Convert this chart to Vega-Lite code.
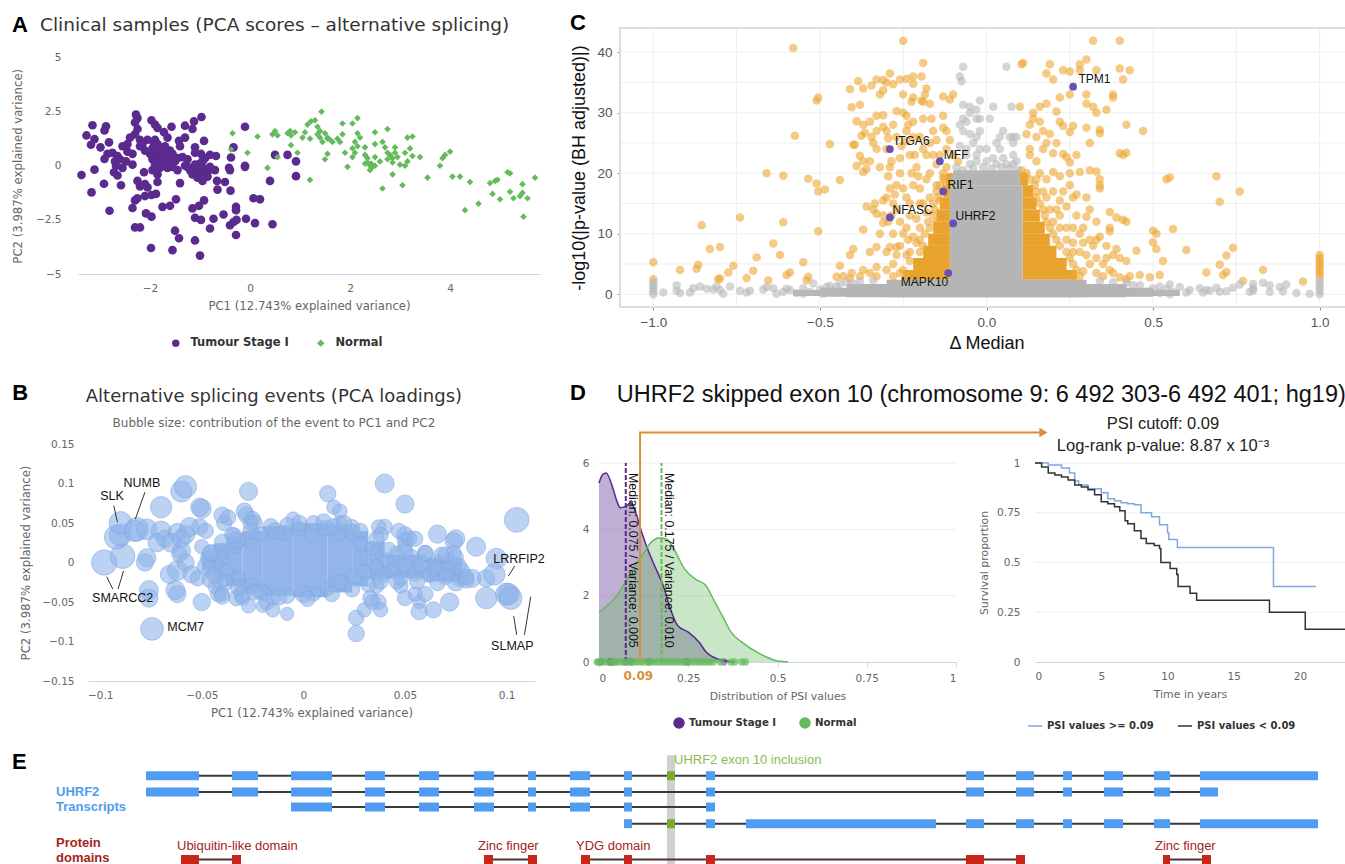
{"$schema":"https://vega.github.io/schema/vega-lite/v6.json","background":"white","autosize":"none","padding":0,"width":1345,"height":864,
"config":{"view":{"stroke":null},"axis":{"domainColor":"#ccd6eb","tickColor":"#ccd6eb","labelColor":"#666","titleColor":"#666","labelFont":"DejaVu Sans","titleFont":"DejaVu Sans","labelFontSize":10.5,"titleFontSize":11.7,"titleFontWeight":"normal","labelPadding":9,"titlePadding":7,"grid":false},"legend":{"labelFont":"DejaVu Sans","labelFontSize":11.5,"labelFontWeight":"bold","labelColor":"#333"}},
"resolve":{"scale":{"x":"independent","y":"independent","color":"independent","shape":"independent","size":"independent"},"axis":{"x":"independent","y":"independent"},"legend":{"color":"independent","shape":"independent","size":"independent"}},
"datasets":{
"aT":[{"x":-3.37,"y":-0.43},{"x":-3.11,"y":-0.18},{"x":-3.17,"y":-1.23},{"x":-3.27,"y":1.4},{"x":-3.15,"y":1.87},{"x":-3.11,"y":1.23},{"x":-3.18,"y":0.97},{"x":-2.99,"y":0.85},{"x":-2.88,"y":1.82},{"x":-2.91,"y":1.63},{"x":-2.82,"y":1.08},{"x":-2.91,"y":0.31},{"x":-2.85,"y":0.55},{"x":-2.75,"y":0.6},{"x":-2.7,"y":0.2},{"x":-2.68,"y":0},{"x":-2.72,"y":-0.3},{"x":-2.65,"y":-0.45},{"x":-2.92,"y":-0.83},{"x":-2.58,"y":-0.9},{"x":-2.81,"y":-2.08},{"x":-2.55,"y":0.9},{"x":-2.45,"y":1},{"x":-2.4,"y":1.3},{"x":-2.3,"y":1.45},{"x":-2.35,"y":0.55},{"x":-2.48,"y":0.2},{"x":-2.35,"y":0.05},{"x":-2.2,"y":0.9},{"x":-2.25,"y":1.7},{"x":-2.3,"y":2},{"x":-2.25,"y":2.2},{"x":-2.28,"y":2.36},{"x":-2.1,"y":0.7},{"x":-2.05,"y":1.2},{"x":-1.97,"y":2.1},{"x":-1.9,"y":1.9},{"x":-1.85,"y":1.75},{"x":-1.9,"y":1.2},{"x":-1.85,"y":1},{"x":-1.95,"y":0.8},{"x":-1.9,"y":0.6},{"x":-1.85,"y":0.4},{"x":-1.95,"y":0.3},{"x":-1.8,"y":0.1},{"x":-1.95,"y":-0.2},{"x":-1.85,"y":-0.4},{"x":-1.85,"y":-0.75},{"x":-1.75,"y":0.6},{"x":-1.7,"y":0.9},{"x":-1.65,"y":1.3},{"x":-1.72,"y":1.55},{"x":-1.57,"y":1.8},{"x":-1.65,"y":0.3},{"x":-1.6,"y":0.1},{"x":-1.55,"y":0.55},{"x":-1.5,"y":0.2},{"x":-1.45,"y":-0.2},{"x":-1.35,"y":0.4},{"x":-1.4,"y":0.9},{"x":-1.42,"y":1.15},{"x":-1.3,"y":1.3},{"x":-1.3,"y":1.85},{"x":-1.15,"y":1.7},{"x":-1.12,"y":2.05},{"x":-0.97,"y":2.25},{"x":-1.4,"y":-0.8},{"x":-1.25,"y":-0.05},{"x":-1.15,"y":-0.4},{"x":-1.1,"y":0.05},{"x":-1.05,"y":-0.2},{"x":-1,"y":0.1},{"x":-0.95,"y":-0.1},{"x":-1.05,"y":-0.55},{"x":-0.95,"y":-0.7},{"x":-0.85,"y":-0.3},{"x":-0.8,"y":-0.05},{"x":-0.9,"y":0.35},{"x":-1.1,"y":0.6},{"x":-1.1,"y":0.85},{"x":-0.92,"y":1.15},{"x":-0.98,"y":0.55},{"x":-0.8,"y":0.5},{"x":-0.7,"y":-0.2},{"x":-0.68,"y":0.45},{"x":-0.66,"y":-0.7},{"x":-0.5,"y":-0.75},{"x":-0.65,"y":-1.1},{"x":-0.39,"y":-1.15},{"x":-0.42,"y":-0.1},{"x":-0.38,"y":0.38},{"x":-0.33,"y":0.85},{"x":-0.1,"y":-0.05},{"x":-0.1,"y":1.8},{"x":-0.4,"y":-0.2},{"x":-2.1,"y":-0.85},{"x":-2.05,"y":-1},{"x":-2.25,"y":-0.7},{"x":-2.2,"y":-0.95},{"x":-2.12,"y":-0.3},{"x":-2.3,"y":-1.6},{"x":-2.25,"y":-1.5},{"x":-2.35,"y":-1.95},{"x":-2.1,"y":-1.4},{"x":-1.97,"y":-1.35},{"x":-1.88,"y":-1.3},{"x":-2.08,"y":-2.2},{"x":-1.97,"y":-2.35},{"x":-1.75,"y":-1.9},{"x":-1.6,"y":-1.85},{"x":-1.48,"y":-1.55},{"x":-1.15,"y":-1.97},{"x":-1.02,"y":-1.85},{"x":-0.92,"y":-1.6},{"x":-1.1,"y":-2.4},{"x":-0.98,"y":-2.5},{"x":-0.73,"y":-2.45},{"x":-0.53,"y":-2.25},{"x":-0.28,"y":-1.9},{"x":-0.28,"y":-2.05},{"x":-0.33,"y":-2.6},{"x":-0.4,"y":-2.75},{"x":-0.27,"y":-2.5},{"x":-0.08,"y":-2.45},{"x":0.1,"y":-2.65},{"x":0.45,"y":-2.7},{"x":-0.8,"y":-2.9},{"x":-0.28,"y":-3.2},{"x":-2.3,"y":-2.85},{"x":-2.2,"y":-2.85},{"x":-1.5,"y":-3},{"x":-1.42,"y":-3.35},{"x":-1.1,"y":-3.45},{"x":-1,"y":-4.15},{"x":-1.55,"y":-3.9},{"x":-1.98,"y":-3.8},{"x":0.07,"y":-1.5},{"x":0.2,"y":-1.55},{"x":0.4,"y":-0.7},{"x":0.5,"y":0.5},{"x":0.75,"y":0.5},{"x":0.92,"y":0.2},{"x":0.92,"y":-0.48},{"x":-0.1,"y":0},{"x":-1.8,"y":0.7},{"x":-1.75,"y":0.3},{"x":-1.7,"y":0.5},{"x":-1.6,"y":0.7},{"x":-1.75,"y":0},{"x":-1.65,"y":-0.1},{"x":-1.9,"y":0.05},{"x":-2,"y":0.55},{"x":-1.55,"y":-0.05},{"x":-1.45,"y":0.35},{"x":-1.3,"y":0},{"x":-1.25,"y":0.3},{"x":-1.2,"y":-0.2},{"x":-1,"y":-0.4},{"x":-0.9,"y":-0.3},{"x":-0.85,"y":-0.5},{"x":-1.15,"y":-0.1},{"x":-1.05,"y":0},{"x":-0.95,"y":0.2},{"x":-2.6,"y":0.3},{"x":-2.55,"y":-0.1},{"x":-2.65,"y":0.45},{"x":-2.2,"y":1.2},{"x":-2.45,"y":0.65},{"x":-1.8,"y":-0.1},{"x":-2.15,"y":1},{"x":-1.92,"y":1.05}],
"aN":[{"x":-0.35,"y":1.5},{"x":-0.38,"y":0.75},{"x":0.15,"y":1.35},{"x":-0.05,"y":0.6},{"x":0.35,"y":-0.1},{"x":0.45,"y":1.45},{"x":0.5,"y":1.6},{"x":0.55,"y":1.4},{"x":0.55,"y":0.4},{"x":0.75,"y":1.5},{"x":0.82,"y":1.4},{"x":0.8,"y":1.6},{"x":0.9,"y":1.55},{"x":0.82,"y":0.95},{"x":0.95,"y":0.6},{"x":1.05,"y":1.3},{"x":1.1,"y":1.55},{"x":1.15,"y":1.9},{"x":1.2,"y":1.25},{"x":1.22,"y":2.05},{"x":1.3,"y":2.1},{"x":1.35,"y":1.8},{"x":1.4,"y":1.6},{"x":1.4,"y":1.3},{"x":1.45,"y":1.1},{"x":1.43,"y":2.5},{"x":1.5,"y":1.5},{"x":1.55,"y":1.3},{"x":1.65,"y":1.1},{"x":1.75,"y":1.25},{"x":1.8,"y":1.1},{"x":1.85,"y":1.95},{"x":1.85,"y":1.45},{"x":1.5,"y":0.3},{"x":1.55,"y":0.55},{"x":1.9,"y":0.6},{"x":2.05,"y":1.95},{"x":2.15,"y":2.2},{"x":2.15,"y":1.5},{"x":2.2,"y":1.3},{"x":2.15,"y":0.9},{"x":2.3,"y":0.85},{"x":2.05,"y":0.8},{"x":2.05,"y":0.4},{"x":2.1,"y":0.6},{"x":1.95,"y":-0.05},{"x":2.35,"y":0.35},{"x":2.35,"y":0.15},{"x":2.4,"y":0},{"x":2.4,"y":-0.2},{"x":2.5,"y":0.4},{"x":2.5,"y":1},{"x":2.5,"y":1.55},{"x":2.65,"y":1.1},{"x":2.75,"y":1.7},{"x":2.7,"y":0.85},{"x":2.6,"y":0.2},{"x":2.75,"y":0.3},{"x":2.8,"y":0.5},{"x":2.9,"y":0.85},{"x":2.9,"y":0.6},{"x":3,"y":0.05},{"x":3.1,"y":0},{"x":3.15,"y":1.3},{"x":3.25,"y":1.35},{"x":3.2,"y":0.8},{"x":3.25,"y":0.45},{"x":3.15,"y":0.2},{"x":3.4,"y":0.4},{"x":2.85,"y":-0.4},{"x":2.65,"y":-1.05},{"x":3.05,"y":-0.9},{"x":3.55,"y":-0.55},{"x":3.8,"y":0},{"x":3.85,"y":0.35},{"x":3.9,"y":0.5},{"x":4,"y":0.65},{"x":4.05,"y":-0.5},{"x":4.2,"y":-0.5},{"x":4.4,"y":-0.75},{"x":4.3,"y":-2.05},{"x":4.57,"y":-1.75},{"x":4.8,"y":-0.8},{"x":4.9,"y":-0.7},{"x":4.85,"y":-1.3},{"x":4.95,"y":-0.65},{"x":5,"y":-1.55},{"x":5.15,"y":-0.3},{"x":5.2,"y":-0.35},{"x":5.2,"y":-1.2},{"x":5.27,"y":-1.5},{"x":5.4,"y":-1.4},{"x":5.45,"y":-1.25},{"x":5.45,"y":-0.85},{"x":5.47,"y":-2.35},{"x":5.7,"y":-0.55},{"x":5.55,"y":-1.5},{"x":2.3,"y":0.5},{"x":2.42,"y":0.1},{"x":2.85,"y":0.15},{"x":2.95,"y":0.4},{"x":3.1,"y":0.6},{"x":1.2,"y":-0.65},{"x":1.55,"y":1.25},{"x":1.6,"y":1.2},{"x":2.45,"y":-0.05},{"x":2.5,"y":0},{"x":2.3,"y":0.1},{"x":2.75,"y":0.6},{"x":2.85,"y":0.35},{"x":2.1,"y":1.1},{"x":1.35,"y":1.45}],
"bCore":[{"x":-0.05,"x2":-0.044,"y":-0.01,"y2":0.012},{"x":-0.044,"x2":-0.038,"y":-0.022,"y2":0.024},{"x":-0.038,"x2":-0.03,"y":-0.03,"y2":0.032},{"x":-0.03,"x2":-0.02,"y":-0.036,"y2":0.04},{"x":-0.02,"x2":-0.005,"y":-0.042,"y2":0.046},{"x":-0.005,"x2":0.012,"y":-0.044,"y2":0.05},{"x":0.012,"x2":0.024,"y":-0.038,"y2":0.048},{"x":0.024,"x2":0.032,"y":-0.03,"y2":0.04},{"x":0.032,"x2":0.04,"y":-0.022,"y2":0.026},{"x":0.04,"x2":0.06,"y":-0.02,"y2":0.01},{"x":0.06,"x2":0.078,"y":-0.024,"y2":0.006}],
"b":[{"x":-0.098,"y":0,"c":0.95},{"x":-0.089,"y":0.008,"c":0.9},{"x":-0.092,"y":0.032,"c":0.85},{"x":-0.09,"y":0.035,"c":0.7},{"x":-0.09,"y":0.05,"c":0.75},{"x":-0.082,"y":0.042,"c":0.8},{"x":-0.083,"y":0.04,"c":0.65},{"x":-0.077,"y":0.042,"c":0.6},{"x":-0.0745,"y":-0.084,"c":0.75},{"x":-0.077,"y":0.006,"c":0.45},{"x":-0.078,"y":0,"c":0.4},{"x":-0.076,"y":-0.035,"c":0.5},{"x":-0.076,"y":-0.045,"c":0.45},{"x":-0.07,"y":0.07,"c":0.65},{"x":-0.07,"y":0.04,"c":0.55},{"x":-0.072,"y":0.025,"c":0.45},{"x":-0.068,"y":0.03,"c":0.4},{"x":-0.065,"y":0.025,"c":0.5},{"x":-0.062,"y":0.038,"c":0.45},{"x":-0.063,"y":-0.035,"c":0.5},{"x":-0.062,"y":-0.04,"c":0.4},{"x":-0.066,"y":-0.015,"c":0.45},{"x":-0.062,"y":-0.01,"c":0.55},{"x":-0.06,"y":0.015,"c":0.45},{"x":-0.058,"y":0,"c":0.4},{"x":-0.06,"y":0.09,"c":0.65},{"x":-0.058,"y":0.096,"c":0.7},{"x":-0.061,"y":0.01,"c":0.3},{"x":-0.056,"y":0.045,"c":0.5},{"x":-0.058,"y":0.035,"c":0.45},{"x":-0.06,"y":0.03,"c":0.4},{"x":-0.055,"y":-0.015,"c":0.4},{"x":-0.052,"y":-0.02,"c":0.3},{"x":-0.05,"y":0.02,"c":0.25},{"x":-0.051,"y":0.045,"c":0.35},{"x":-0.05,"y":0.068,"c":0.5},{"x":-0.051,"y":0.07,"c":0.45},{"x":-0.05,"y":-0.05,"c":0.4},{"x":-0.048,"y":0.04,"c":0.3},{"x":-0.045,"y":-0.01,"c":0.3},{"x":-0.043,"y":-0.03,"c":0.35},{"x":-0.04,"y":0.06,"c":0.35},{"x":-0.04,"y":0.015,"c":0.3},{"x":-0.041,"y":-0.025,"c":0.3},{"x":-0.042,"y":-0.04,"c":0.3},{"x":-0.04,"y":-0.04,"c":0.25},{"x":-0.039,"y":0.05,"c":0.3},{"x":-0.037,"y":0.057,"c":0.3},{"x":-0.04,"y":0.005,"c":0.25},{"x":-0.035,"y":0.035,"c":0.3},{"x":-0.033,"y":-0.045,"c":0.3},{"x":-0.04,"y":-0.043,"c":0.3},{"x":-0.03,"y":-0.03,"c":0.3},{"x":-0.03,"y":-0.045,"c":0.25},{"x":-0.03,"y":-0.04,"c":0.35},{"x":-0.029,"y":0.065,"c":0.35},{"x":-0.028,"y":0.06,"c":0.35},{"x":-0.026,"y":0.05,"c":0.3},{"x":-0.025,"y":0.055,"c":0.3},{"x":-0.027,"y":0.09,"c":0.45},{"x":-0.027,"y":-0.055,"c":0.25},{"x":-0.024,"y":0.05,"c":0.3},{"x":-0.02,"y":-0.055,"c":0.2},{"x":-0.018,"y":-0.05,"c":0.3},{"x":-0.015,"y":-0.06,"c":0.25},{"x":-0.008,"y":-0.065,"c":0.2},{"x":-0.005,"y":0.055,"c":0.25},{"x":-0.015,"y":-0.045,"c":0.25},{"x":0.012,"y":0.087,"c":0.35},{"x":0.015,"y":0.07,"c":0.25},{"x":0.018,"y":0.065,"c":0.25},{"x":0.026,"y":-0.09,"c":0.35},{"x":0.026,"y":-0.07,"c":0.3},{"x":0.03,"y":-0.06,"c":0.25},{"x":0.033,"y":-0.045,"c":0.3},{"x":0.034,"y":-0.05,"c":0.3},{"x":0.037,"y":-0.05,"c":0.3},{"x":0.038,"y":-0.06,"c":0.25},{"x":0.036,"y":-0.03,"c":0.25},{"x":0.04,"y":0.1,"c":0.5},{"x":0.05,"y":0.074,"c":0.45},{"x":0.05,"y":0.035,"c":0.35},{"x":0.05,"y":0.028,"c":0.3},{"x":0.048,"y":-0.03,"c":0.25},{"x":0.047,"y":0.04,"c":0.3},{"x":0.04,"y":0.045,"c":0.3},{"x":0.037,"y":0.045,"c":0.25},{"x":0.038,"y":0.035,"c":0.3},{"x":0.052,"y":0.03,"c":0.3},{"x":0.055,"y":0.03,"c":0.3},{"x":0.05,"y":0.02,"c":0.25},{"x":0.05,"y":-0.045,"c":0.3},{"x":0.055,"y":-0.04,"c":0.25},{"x":0.057,"y":-0.05,"c":0.2},{"x":0.06,"y":-0.04,"c":0.3},{"x":0.057,"y":-0.062,"c":0.35},{"x":0.064,"y":-0.06,"c":0.35},{"x":0.072,"y":-0.05,"c":0.45},{"x":0.066,"y":0.036,"c":0.45},{"x":0.066,"y":0,"c":0.3},{"x":0.07,"y":-0.01,"c":0.4},{"x":0.075,"y":0.03,"c":0.45},{"x":0.074,"y":0.027,"c":0.4},{"x":0.076,"y":-0.005,"c":0.4},{"x":0.077,"y":-0.02,"c":0.35},{"x":0.075,"y":-0.025,"c":0.4},{"x":0.08,"y":-0.022,"c":0.35},{"x":0.085,"y":0.02,"c":0.5},{"x":0.083,"y":-0.02,"c":0.45},{"x":0.09,"y":-0.02,"c":0.4},{"x":0.09,"y":-0.045,"c":0.65},{"x":0.095,"y":0.005,"c":0.6},{"x":0.094,"y":-0.015,"c":0.65},{"x":0.1,"y":-0.04,"c":0.7},{"x":0.101,"y":-0.04,"c":0.65},{"x":0.102,"y":-0.045,"c":0.75},{"x":0.105,"y":0.054,"c":0.9},
{"x":-0.038,"y":-0.012,"c":0.3},{"x":-0.034,"y":0.022,"c":0.3},{"x":-0.032,"y":-0.02,"c":0.25},{"x":-0.028,"y":0.03,"c":0.25},{"x":-0.026,"y":-0.03,"c":0.3},{"x":-0.021,"y":0.036,"c":0.25},{"x":-0.02,"y":-0.038,"c":0.3},{"x":-0.009,"y":0.038,"c":0.3},{"x":-0.008,"y":0.048,"c":0.25},{"x":-0.008,"y":-0.042,"c":0.3},{"x":-0.002,"y":0.043,"c":0.25},{"x":0.004,"y":0.036,"c":0.3},{"x":0.005,"y":0.05,"c":0.28},{"x":0.005,"y":-0.04,"c":0.25},{"x":0.011,"y":0.044,"c":0.3},{"x":0.012,"y":-0.033,"c":0.25},{"x":0.017,"y":0.037,"c":0.3},{"x":0.018,"y":0.05,"c":0.25},{"x":0.019,"y":-0.025,"c":0.28},{"x":0.024,"y":0.045,"c":0.28},{"x":0.025,"y":-0.018,"c":0.3},{"x":0.028,"y":0.024,"c":0.3},{"x":0.03,"y":-0.012,"c":0.28},{"x":0.032,"y":0.006,"c":0.3},{"x":0.034,"y":0.018,"c":0.25},{"x":0.036,"y":-0.006,"c":0.28},{"x":0.039,"y":-0.016,"c":0.3},{"x":0.041,"y":0.003,"c":0.28},{"x":0.044,"y":-0.01,"c":0.3},{"x":0.046,"y":0.012,"c":0.25},{"x":0.048,"y":-0.02,"c":0.28},{"x":0.05,"y":-0.004,"c":0.3},{"x":0.053,"y":0.008,"c":0.25},{"x":0.055,"y":-0.014,"c":0.3},{"x":0.058,"y":-0.003,"c":0.28},{"x":0.06,"y":0.012,"c":0.3},{"x":0.062,"y":-0.016,"c":0.28},{"x":0.065,"y":-0.008,"c":0.3},{"x":0.068,"y":0.01,"c":0.28},{"x":0.07,"y":-0.018,"c":0.3},{"x":0.072,"y":0.002,"c":0.28},{"x":0.074,"y":0.012,"c":0.3},{"x":-0.046,"y":-0.022,"c":0.3},{"x":-0.047,"y":0.005,"c":0.3},{"x":0,"y":-0.04,"c":0.38},{"x":0.015,"y":0.045,"c":0.38},{"x":-0.014,"y":0.04,"c":0.38},{"x":-0.033,"y":0.028,"c":0.38},{"x":0.024,"y":0.038,"c":0.38},{"x":-0.022,"y":-0.035,"c":0.38},{"x":0.017,"y":-0.025,"c":0.38},{"x":-0.042,"y":0.01,"c":0.38},{"x":-0.044,"y":0,"c":0.38},{"x":-0.045,"y":0.012,"c":0.38},{"x":-0.048,"y":-0.005,"c":0.38},
{"x":-0.046,"y":0.012,"c":0.3},{"x":-0.044,"y":-0.016,"c":0.3},{"x":-0.04,"y":0.026,"c":0.3},{"x":-0.038,"y":-0.025,"c":0.3},{"x":-0.034,"y":0.034,"c":0.3},{"x":-0.032,"y":-0.032,"c":0.3},{"x":-0.026,"y":0.04,"c":0.3},{"x":-0.024,"y":-0.038,"c":0.3},{"x":-0.016,"y":0.046,"c":0.3},{"x":-0.012,"y":-0.044,"c":0.3},{"x":-0.002,"y":0.05,"c":0.3},{"x":0.002,"y":-0.046,"c":0.3},{"x":0.01,"y":0.052,"c":0.3},{"x":0.014,"y":-0.04,"c":0.3},{"x":0.02,"y":0.05,"c":0.3},{"x":0.024,"y":-0.034,"c":0.3},{"x":0.028,"y":0.04,"c":0.3},{"x":0.032,"y":-0.028,"c":0.3},{"x":0.036,"y":0.03,"c":0.3},{"x":0.038,"y":-0.024,"c":0.3},{"x":0.042,"y":0.016,"c":0.3},{"x":0.046,"y":-0.024,"c":0.3},{"x":0.05,"y":0.014,"c":0.3},{"x":0.056,"y":-0.024,"c":0.3},{"x":0.06,"y":0.012,"c":0.3},{"x":0.066,"y":-0.026,"c":0.3},{"x":0.07,"y":0.01,"c":0.3},{"x":0.078,"y":-0.01,"c":0.3},{"x":0.08,"y":-0.018,"c":0.3},{"x":0.075,"y":0.006,"c":0.3}],
"cG":[{"x":-0.07,"y":37.6},{"x":0.06,"y":37.6},{"x":-0.08,"y":36},{"x":-0.075,"y":35.2},{"x":-0.02,"y":32},{"x":-0.07,"y":31.3},{"x":-0.05,"y":31},{"x":-0.03,"y":30.5},{"x":0.02,"y":31},{"x":0.075,"y":31},{"x":-0.05,"y":30},{"x":-0.03,"y":29},{"x":-0.07,"y":29},{"x":-0.08,"y":28},{"x":-0.06,"y":28.5},{"x":-0.02,"y":29},{"x":0.01,"y":29},{"x":-0.07,"y":27},{"x":-0.05,"y":26.5},{"x":-0.03,"y":26},{"x":-0.02,"y":27},{"x":0.05,"y":27},{"x":0.04,"y":26},{"x":0.07,"y":26},{"x":0.08,"y":26},{"x":0.09,"y":26},{"x":-0.08,"y":24.5},{"x":-0.06,"y":24},{"x":-0.04,"y":25},{"x":-0.02,"y":24},{"x":0.08,"y":25},{"x":0.08,"y":23},{"x":0.09,"y":22},{"x":-0.06,"y":23},{"x":-0.03,"y":23},{"x":0,"y":24},{"x":0.02,"y":22.5},{"x":0.05,"y":22.5},{"x":-0.05,"y":21.5},{"x":-0.03,"y":22},{"x":0,"y":22},{"x":0.03,"y":21.5},{"x":0.06,"y":21.5},{"x":0.08,"y":21.5},{"x":0.04,"y":24},{"x":0.03,"y":25},{"x":-0.09,"y":21},{"x":-0.1,"y":19},{"x":0.095,"y":20.5},{"x":-0.07,"y":20.5},{"x":-0.04,"y":20.8},{"x":-0.01,"y":21},{"x":0.015,"y":20.8},{"x":0.045,"y":21},{"x":0.07,"y":20.8},
{"x":-1,"y":0},{"x":-1,"y":0.5},{"x":-1,"y":1},{"x":-1,"y":1.5},{"x":-1,"y":2},{"x":-0.97,"y":0.3},{"x":-0.93,"y":1.5},{"x":-0.93,"y":0.6},{"x":-0.92,"y":0.2},{"x":-0.89,"y":0.3},{"x":-0.88,"y":1},{"x":-0.86,"y":1.3},{"x":-0.84,"y":0.9},{"x":-0.82,"y":0.8},{"x":-0.81,"y":1.3},{"x":-0.8,"y":0.7},{"x":-0.79,"y":0.1},{"x":-0.77,"y":1.3},{"x":-0.74,"y":0.6},{"x":-0.72,"y":0.3},{"x":-0.71,"y":0.6},{"x":-0.67,"y":0.8},{"x":-0.66,"y":1.2},{"x":-0.64,"y":1},{"x":-0.63,"y":0.1},{"x":-0.61,"y":0.4},{"x":-0.59,"y":0.7},{"x":-0.57,"y":0.2},{"x":-0.55,"y":1},{"x":-0.53,"y":0.4},{"x":-0.52,"y":1.8},{"x":-0.5,"y":0.8},{"x":-0.49,"y":0.1},{"x":-0.47,"y":1.4},{"x":-0.46,"y":0.5},{"x":-0.44,"y":1.7},{"x":-0.55,"y":0.1},{"x":-0.6,"y":0.9},{"x":-0.48,"y":1.2},{"x":-0.45,"y":1.3},{"x":-0.42,"y":2},{"x":-0.38,"y":2.1},{"x":-0.34,"y":2.3},{"x":-0.4,"y":1.8},{"x":0.34,"y":2.2},{"x":0.38,"y":2},{"x":0.42,"y":1.9},{"x":0.44,"y":1.5},{"x":0.52,"y":1.3},{"x":0.6,"y":0.3},{"x":0.46,"y":1.5},{"x":0.48,"y":0.4},{"x":0.5,"y":1},{"x":0.52,"y":0.2},{"x":0.54,"y":0.9},{"x":0.56,"y":0.4},{"x":0.58,"y":1.2},{"x":0.55,"y":1.6},{"x":0.61,"y":0.7},{"x":0.55,"y":0},{"x":0.64,"y":1},{"x":0.65,"y":0.3},{"x":0.67,"y":0.6},{"x":0.69,"y":1.1},{"x":0.66,"y":0.7},{"x":0.7,"y":0.4},{"x":0.72,"y":0.5},{"x":0.74,"y":1.1},{"x":0.76,"y":1.6},{"x":0.79,"y":0.4},{"x":0.8,"y":0.6},{"x":0.8,"y":1},{"x":0.8,"y":1.7},{"x":0.83,"y":1.9},{"x":0.85,"y":1.5},{"x":0.85,"y":0.4},{"x":0.88,"y":1.2},{"x":0.9,"y":1.6},{"x":0.89,"y":0.5},{"x":0.93,"y":0.2},{"x":0.97,"y":0.1},{"x":1,"y":0},{"x":1,"y":0.6},{"x":1,"y":1.2},{"x":1,"y":1.8},{"x":1,"y":2.3}],
"cO":[{"x":-1,"y":5.3},{"x":-1,"y":2.5},{"x":-0.92,"y":4},{"x":-0.87,"y":4.2},{"x":-0.865,"y":4.9},{"x":-0.855,"y":11.4},{"x":-0.83,"y":7.5},{"x":-0.8,"y":7.8},{"x":-0.8,"y":2.6},{"x":-0.805,"y":2.5},{"x":-0.775,"y":3.6},{"x":-0.76,"y":4.7},{"x":-0.74,"y":12.7},{"x":-0.72,"y":2.7},{"x":-0.7,"y":3.9},{"x":-0.69,"y":6.1},{"x":-0.66,"y":20},{"x":-0.655,"y":2.3},{"x":-0.64,"y":8.4},{"x":-0.62,"y":6.5},{"x":-0.61,"y":19.6},{"x":-0.61,"y":11.9},{"x":-0.6,"y":3.2},{"x":-0.59,"y":3.6},{"x":-0.58,"y":40.7},{"x":-0.575,"y":26.2},{"x":-0.55,"y":5.3},{"x":-0.54,"y":2.3},{"x":-0.535,"y":2.9},{"x":-0.535,"y":19.1},{"x":-0.51,"y":18.3},{"x":-0.505,"y":17},{"x":-0.51,"y":32},{"x":-0.505,"y":32.5},{"x":-0.505,"y":10.4},{"x":-0.485,"y":17.3},{"x":-0.47,"y":24.8},{"x":-0.44,"y":18.9},{"x":-0.45,"y":2.9},{"x":-0.44,"y":4.7},{"x":-0.43,"y":3},{"x":-0.41,"y":2.6},{"x":-0.405,"y":3.5},{"x":-0.41,"y":6.5},{"x":-0.4,"y":7.5},{"x":-0.37,"y":10.7},{"x":-0.41,"y":33.9},{"x":-0.405,"y":30.9},{"x":-0.385,"y":35.2},{"x":-0.38,"y":31.3},{"x":-0.39,"y":28.6},{"x":-0.37,"y":28},{"x":-0.37,"y":34},{"x":-0.345,"y":34.5},{"x":-0.35,"y":28.5},{"x":-0.375,"y":26.2},{"x":-0.365,"y":26.7},{"x":-0.4,"y":24.7},{"x":-0.395,"y":24.7},{"x":-0.39,"y":21.2},{"x":-0.37,"y":20.2},{"x":-0.36,"y":20.7},{"x":-0.35,"y":22},{"x":-0.38,"y":22.9},{"x":-0.37,"y":22},{"x":-0.345,"y":26},{"x":-0.34,"y":25},{"x":-0.33,"y":24},{"x":-0.33,"y":29.5},{"x":-0.31,"y":29.6},{"x":-0.31,"y":27.7},{"x":-0.33,"y":27},{"x":-0.3,"y":27},{"x":-0.295,"y":25.8},{"x":-0.3,"y":24},{"x":-0.285,"y":22},{"x":-0.29,"y":21},{"x":-0.295,"y":19.5},{"x":-0.29,"y":17.5},{"x":-0.3,"y":16},{"x":-0.31,"y":15.5},{"x":-0.335,"y":15},{"x":-0.36,"y":14.5},{"x":-0.34,"y":14},{"x":-0.33,"y":13.3},{"x":-0.31,"y":13},{"x":-0.31,"y":11.8},{"x":-0.295,"y":12},{"x":-0.285,"y":13},{"x":-0.28,"y":15},{"x":-0.275,"y":16.5},{"x":-0.27,"y":18},{"x":-0.26,"y":20},{"x":-0.26,"y":22.5},{"x":-0.255,"y":24.5},{"x":-0.24,"y":25.3},{"x":-0.24,"y":27},{"x":-0.235,"y":28},{"x":-0.22,"y":28.5},{"x":-0.22,"y":26},{"x":-0.215,"y":23},{"x":-0.21,"y":21},{"x":-0.225,"y":20},{"x":-0.205,"y":19.5},{"x":-0.2,"y":17.5},{"x":-0.2,"y":15},{"x":-0.23,"y":15},{"x":-0.24,"y":16},{"x":-0.25,"y":17.5},{"x":-0.23,"y":13},{"x":-0.21,"y":12.5},{"x":-0.24,"y":11},{"x":-0.25,"y":10},{"x":-0.235,"y":9},{"x":-0.22,"y":9.5},{"x":-0.21,"y":8.5},{"x":-0.27,"y":7.8},{"x":-0.29,"y":7.8},{"x":-0.27,"y":6.5},{"x":-0.3,"y":7},{"x":-0.28,"y":5},{"x":-0.33,"y":7.8},{"x":-0.35,"y":7},{"x":-0.33,"y":4.5},{"x":-0.37,"y":4},{"x":-0.35,"y":3.5},{"x":-0.33,"y":3},{"x":-0.33,"y":35.5},{"x":-0.31,"y":35.4},{"x":-0.29,"y":36.5},{"x":-0.3,"y":35},{"x":-0.28,"y":34.7},{"x":-0.31,"y":33.7},{"x":-0.32,"y":33},{"x":-0.26,"y":35.5},{"x":-0.24,"y":35.6},{"x":-0.22,"y":36},{"x":-0.195,"y":36},{"x":-0.19,"y":38.2},{"x":-0.22,"y":34.8},{"x":-0.18,"y":34},{"x":-0.185,"y":33},{"x":-0.195,"y":32},{"x":-0.22,"y":32.5},{"x":-0.225,"y":31.8},{"x":-0.19,"y":31.8},{"x":-0.17,"y":31.5},{"x":-0.13,"y":32.7},{"x":-0.1,"y":33},{"x":-0.11,"y":32.2},{"x":-0.25,"y":30},{"x":-0.27,"y":30.3},{"x":-0.24,"y":29.5},{"x":-0.19,"y":29},{"x":-0.165,"y":29},{"x":-0.13,"y":29.5},{"x":-0.13,"y":27.5},{"x":-0.12,"y":27},{"x":-0.11,"y":25.5},{"x":-0.15,"y":25.5},{"x":-0.17,"y":25},{"x":-0.16,"y":23},{"x":-0.18,"y":23},{"x":-0.12,"y":24},{"x":-0.1,"y":23},{"x":-0.085,"y":22},{"x":-0.15,"y":21.5},{"x":-0.12,"y":21},{"x":-0.18,"y":19},{"x":-0.13,"y":19.2},{"x":-0.15,"y":18},{"x":-0.12,"y":18},{"x":-0.17,"y":16},{"x":-0.14,"y":15.5},{"x":-0.18,"y":13.5},{"x":-0.15,"y":12},{"x":-0.25,"y":41.9},{"x":0.3,"y":38.8},{"x":0.28,"y":38},{"x":0.32,"y":41.9},{"x":0.4,"y":41.9},{"x":0.105,"y":38},{"x":0.11,"y":38.2},{"x":0.19,"y":38},{"x":0.18,"y":36.5},{"x":0.2,"y":35.5},{"x":0.23,"y":37},{"x":0.25,"y":36.8},{"x":0.28,"y":37},{"x":0.33,"y":37},{"x":0.4,"y":37.3},{"x":0.43,"y":37},{"x":0.41,"y":35.5},{"x":0.38,"y":33},{"x":0.38,"y":32.5},{"x":0.36,"y":30.5},{"x":0.3,"y":33},{"x":0.25,"y":33},{"x":0.22,"y":32.5},{"x":0.18,"y":31.5},{"x":0.16,"y":31},{"x":0.14,"y":30},{"x":0.1,"y":31},{"x":0.3,"y":31.5},{"x":0.32,"y":31},{"x":0.33,"y":30},{"x":0.21,"y":30.2},{"x":0.22,"y":28.5},{"x":0.23,"y":27.8},{"x":0.26,"y":27.8},{"x":0.25,"y":26.8},{"x":0.3,"y":27.5},{"x":0.34,"y":27.2},{"x":0.34,"y":26.6},{"x":0.42,"y":28},{"x":0.47,"y":27},{"x":0.12,"y":26.5},{"x":0.13,"y":28},{"x":0.14,"y":29},{"x":0.16,"y":28.5},{"x":0.15,"y":26},{"x":0.17,"y":27},{"x":0.19,"y":26.5},{"x":0.17,"y":24},{"x":0.13,"y":24},{"x":0.13,"y":23},{"x":0.2,"y":23.3},{"x":0.23,"y":23.2},{"x":0.24,"y":22.7},{"x":0.25,"y":21.8},{"x":0.27,"y":23},{"x":0.31,"y":25},{"x":0.4,"y":23.3},{"x":0.42,"y":23.4},{"x":0.41,"y":23},{"x":0.105,"y":20.5},{"x":0.11,"y":19.5},{"x":0.16,"y":20},{"x":0.18,"y":19},{"x":0.2,"y":20.2},{"x":0.22,"y":19.5},{"x":0.25,"y":20},{"x":0.28,"y":20.2},{"x":0.31,"y":20.5},{"x":0.33,"y":20.3},{"x":0.34,"y":19},{"x":0.34,"y":18},{"x":0.34,"y":17.5},{"x":0.25,"y":18},{"x":0.27,"y":16.5},{"x":0.3,"y":16},{"x":0.2,"y":17},{"x":0.22,"y":15.5},{"x":0.18,"y":16},{"x":0.24,"y":14.5},{"x":0.27,"y":13},{"x":0.3,"y":12.8},{"x":0.33,"y":12},{"x":0.22,"y":13},{"x":0.2,"y":12},{"x":0.24,"y":11},{"x":0.26,"y":11},{"x":0.28,"y":10},{"x":0.37,"y":13.6},{"x":0.39,"y":12.7},{"x":0.41,"y":12.3},{"x":0.42,"y":12},{"x":0.37,"y":11},{"x":0.37,"y":10.4},{"x":0.34,"y":9.5},{"x":0.33,"y":9},{"x":0.36,"y":8},{"x":0.39,"y":7.5},{"x":0.38,"y":6.5},{"x":0.4,"y":6},{"x":0.42,"y":5.5},{"x":0.45,"y":7.2},{"x":0.5,"y":8.6},{"x":0.51,"y":7.5},{"x":0.5,"y":10.5},{"x":0.51,"y":10},{"x":0.56,"y":10.8},{"x":0.54,"y":19},{"x":0.55,"y":19.3},{"x":0.6,"y":7.3},{"x":0.53,"y":5.5},{"x":0.52,"y":3.2},{"x":0.49,"y":2.8},{"x":0.46,"y":3.2},{"x":0.43,"y":3},{"x":0.37,"y":4},{"x":0.35,"y":5},{"x":0.3,"y":6.5},{"x":0.32,"y":8},{"x":0.31,"y":5},{"x":0.28,"y":7},{"x":0.26,"y":8.5},{"x":0.26,"y":5},{"x":0.29,"y":3.8},{"x":0.33,"y":3.5},{"x":0.35,"y":3},{"x":0.4,"y":2.8},{"x":0.42,"y":2.5},{"x":0.66,"y":3.6},{"x":0.69,"y":19.5},{"x":0.7,"y":15.3},{"x":0.76,"y":17},{"x":0.7,"y":4.9},{"x":0.72,"y":6.4},{"x":0.74,"y":7.7},{"x":0.71,"y":3.2},{"x":0.72,"y":3.7},{"x":0.77,"y":2.2},{"x":0.83,"y":4},{"x":0.95,"y":2.1},{"x":1,"y":6.5},{"x":1,"y":6},{"x":1,"y":5.5},{"x":1,"y":5},{"x":1,"y":4.5},{"x":1,"y":4},{"x":1,"y":3.5},{"x":1,"y":3},
{"x":-0.24,"y":3},{"x":-0.25,"y":4},{"x":-0.26,"y":3.5},{"x":-0.23,"y":5.5},{"x":-0.24,"y":6.5},{"x":-0.2,"y":7},{"x":-0.19,"y":8},{"x":-0.2,"y":9},{"x":-0.185,"y":10},{"x":-0.17,"y":11},{"x":-0.175,"y":12},{"x":-0.16,"y":13},{"x":-0.155,"y":14},{"x":-0.16,"y":15},{"x":-0.145,"y":16},{"x":-0.15,"y":17},{"x":-0.14,"y":18},{"x":-0.13,"y":20},{"x":-0.125,"y":19},{"x":0.26,"y":3},{"x":0.27,"y":4},{"x":0.25,"y":6},{"x":0.24,"y":7},{"x":0.22,"y":8},{"x":0.21,"y":9},{"x":0.2,"y":10},{"x":0.19,"y":11},{"x":0.18,"y":12},{"x":0.175,"y":13},{"x":0.17,"y":14},{"x":0.16,"y":15},{"x":0.15,"y":16},{"x":0.15,"y":17},{"x":0.145,"y":18},{"x":0.13,"y":19},{"x":0.12,"y":20},{"x":0.28,"y":3},{"x":0.23,"y":5},
{"x":-0.32,"y":21},{"x":-0.27,"y":26},{"x":-0.28,"y":28},{"x":-0.25,"y":33},{"x":-0.2,"y":26},{"x":-0.19,"y":24},{"x":-0.16,"y":27},{"x":-0.14,"y":23},{"x":-0.23,"y":23},{"x":-0.27,"y":14},{"x":-0.26,"y":12},{"x":-0.28,"y":10},{"x":-0.32,"y":10},{"x":-0.26,"y":8},{"x":-0.23,"y":7},{"x":-0.3,"y":4},{"x":-0.28,"y":3},{"x":-0.38,"y":3},{"x":-0.22,"y":18},{"x":-0.17,"y":20},{"x":-0.19,"y":15},{"x":-0.2,"y":11},{"x":0.15,"y":22},{"x":0.18,"y":25},{"x":0.21,"y":25},{"x":0.15,"y":19},{"x":0.17,"y":17},{"x":0.19,"y":14},{"x":0.21,"y":14},{"x":0.23,"y":17},{"x":0.26,"y":16},{"x":0.24,"y":9},{"x":0.26,"y":7},{"x":0.29,"y":8.5},{"x":0.29,"y":11},{"x":0.31,"y":9},{"x":0.31,"y":14},{"x":0.22,"y":11},{"x":0.33,"y":6},{"x":0.36,"y":6},{"x":0.38,"y":3.5}],
"cBlocksG":[{"x":-0.11,"x2":0.108,"y":0,"y2":18},{"x":-0.1,"x2":0.1,"y":18,"y2":20.5},{"x":-0.3,"x2":0.3,"y":-0.5,"y2":2.4},{"x":-0.42,"x2":0.42,"y":-0.5,"y2":1.7},{"x":-0.5,"x2":0.5,"y":-0.4,"y2":1.1},{"x":-0.58,"x2":0.58,"y":-0.3,"y2":0.7}],
"cBlocksO":[{"x":-0.25,"x2":-0.11,"y":2.4,"y2":4},{"x":-0.22,"x2":-0.11,"y":4,"y2":6},{"x":-0.19,"x2":-0.11,"y":6,"y2":8},{"x":-0.175,"x2":-0.11,"y":8,"y2":10},{"x":-0.16,"x2":-0.11,"y":10,"y2":12},{"x":-0.15,"x2":-0.11,"y":12,"y2":14},{"x":-0.14,"x2":-0.11,"y":14,"y2":16},{"x":-0.13,"x2":-0.11,"y":16,"y2":18},{"x":-0.12,"x2":-0.1,"y":18,"y2":20},{"x":0.108,"x2":0.27,"y":2.4,"y2":4},{"x":0.108,"x2":0.24,"y":4,"y2":6},{"x":0.108,"x2":0.21,"y":6,"y2":8},{"x":0.108,"x2":0.19,"y":8,"y2":10},{"x":0.108,"x2":0.175,"y":10,"y2":12},{"x":0.108,"x2":0.16,"y":12,"y2":14},{"x":0.108,"x2":0.15,"y":14,"y2":16},{"x":0.108,"x2":0.14,"y":16,"y2":18},{"x":0.1,"x2":0.125,"y":18,"y2":20}],
"cH":[{"x":0.26,"y":34.3,"gene":"TPM1","lx":0.276,"ly":35.5},{"x":-0.29,"y":24,"gene":"ITGA6","lx":-0.275,"ly":25.4},{"x":-0.14,"y":22,"gene":"MFF","lx":-0.128,"ly":23},{"x":-0.13,"y":17,"gene":"RIF1","lx":-0.117,"ly":18},{"x":-0.29,"y":12.7,"gene":"NFASC","lx":-0.282,"ly":14},{"x":-0.1,"y":11.7,"gene":"UHRF2","lx":-0.093,"ly":12.9},{"x":-0.115,"y":3.5,"gene":"MAPK10","lx":-0.257,"ly":2.1}],
"dT":[{"x":0,"y":5.4},{"x":0.01,"y":5.65},{"x":0.02,"y":5.7},{"x":0.04,"y":5.2},{"x":0.05,"y":4.85},{"x":0.06,"y":4.65},{"x":0.075,"y":4.7},{"x":0.09,"y":4.8},{"x":0.1,"y":4.6},{"x":0.12,"y":3.9},{"x":0.14,"y":3.3},{"x":0.16,"y":2.8},{"x":0.18,"y":2.3},{"x":0.2,"y":1.6},{"x":0.22,"y":1.1},{"x":0.25,"y":0.9},{"x":0.28,"y":0.6},{"x":0.3,"y":0.3},{"x":0.33,"y":0.1},{"x":0.38,"y":0}],
"dN":[{"x":0,"y":1.5},{"x":0.05,"y":2},{"x":0.09,"y":2.7},{"x":0.12,"y":3.2},{"x":0.15,"y":3.65},{"x":0.17,"y":3.75},{"x":0.19,"y":3.7},{"x":0.21,"y":3.4},{"x":0.24,"y":2.8},{"x":0.27,"y":2.5},{"x":0.3,"y":2.3},{"x":0.32,"y":1.9},{"x":0.35,"y":1.3},{"x":0.37,"y":0.9},{"x":0.4,"y":0.6},{"x":0.45,"y":0.25},{"x":0.5,"y":0.03},{"x":0.53,"y":0}],
"rugN":[{"x":-0.005},{"x":0},{"x":0.008},{"x":0.02},{"x":0.03},{"x":0.04},{"x":0.045},{"x":0.05},{"x":0.06},{"x":0.07},{"x":0.08},{"x":0.09},{"x":0.1},{"x":0.11},{"x":0.12},{"x":0.13},{"x":0.14},{"x":0.15},{"x":0.16},{"x":0.17},{"x":0.18},{"x":0.19},{"x":0.2},{"x":0.21},{"x":0.22},{"x":0.23},{"x":0.24},{"x":0.25},{"x":0.26},{"x":0.27},{"x":0.28},{"x":0.29},{"x":0.3},{"x":0.31},{"x":0.32},{"x":0.34},{"x":0.37},{"x":0.38},{"x":0.4},{"x":0.41}],
"rugT":[{"x":0.005},{"x":0.03},{"x":0.035},{"x":0.075},{"x":0.09},{"x":0.14},{"x":0.245},{"x":0.35}],
"sv":[{"t":0,"s":1,"g":"PSI values >= 0.09"},{"t":1,"s":0.99,"g":"PSI values >= 0.09"},{"t":2,"s":0.975,"g":"PSI values >= 0.09"},{"t":2.6,"s":0.95,"g":"PSI values >= 0.09"},{"t":3,"s":0.91,"g":"PSI values >= 0.09"},{"t":3.3,"s":0.89,"g":"PSI values >= 0.09"},{"t":4,"s":0.87,"g":"PSI values >= 0.09"},{"t":5,"s":0.85,"g":"PSI values >= 0.09"},{"t":5.5,"s":0.82,"g":"PSI values >= 0.09"},{"t":6,"s":0.81,"g":"PSI values >= 0.09"},{"t":6.5,"s":0.8,"g":"PSI values >= 0.09"},{"t":7,"s":0.795,"g":"PSI values >= 0.09"},{"t":7.5,"s":0.79,"g":"PSI values >= 0.09"},{"t":8,"s":0.75,"g":"PSI values >= 0.09"},{"t":8.8,"s":0.73,"g":"PSI values >= 0.09"},{"t":9.4,"s":0.69,"g":"PSI values >= 0.09"},{"t":10,"s":0.65,"g":"PSI values >= 0.09"},{"t":10.1,"s":0.615,"g":"PSI values >= 0.09"},{"t":10.75,"s":0.575,"g":"PSI values >= 0.09"},{"t":18,"s":0.38,"g":"PSI values >= 0.09"},{"t":21.2,"s":0.38,"g":"PSI values >= 0.09"},
{"t":0,"s":1,"g":"PSI values < 0.09"},{"t":0.5,"s":0.98,"g":"PSI values < 0.09"},{"t":1,"s":0.95,"g":"PSI values < 0.09"},{"t":1.5,"s":0.94,"g":"PSI values < 0.09"},{"t":2,"s":0.93,"g":"PSI values < 0.09"},{"t":2.5,"s":0.915,"g":"PSI values < 0.09"},{"t":3,"s":0.89,"g":"PSI values < 0.09"},{"t":3.5,"s":0.88,"g":"PSI values < 0.09"},{"t":4,"s":0.865,"g":"PSI values < 0.09"},{"t":4.5,"s":0.84,"g":"PSI values < 0.09"},{"t":5,"s":0.805,"g":"PSI values < 0.09"},{"t":5.5,"s":0.795,"g":"PSI values < 0.09"},{"t":6,"s":0.78,"g":"PSI values < 0.09"},{"t":6.4,"s":0.76,"g":"PSI values < 0.09"},{"t":6.8,"s":0.71,"g":"PSI values < 0.09"},{"t":7,"s":0.695,"g":"PSI values < 0.09"},{"t":7.5,"s":0.66,"g":"PSI values < 0.09"},{"t":8,"s":0.62,"g":"PSI values < 0.09"},{"t":8.4,"s":0.595,"g":"PSI values < 0.09"},{"t":9,"s":0.585,"g":"PSI values < 0.09"},{"t":9.4,"s":0.57,"g":"PSI values < 0.09"},{"t":9.5,"s":0.5,"g":"PSI values < 0.09"},{"t":10.2,"s":0.47,"g":"PSI values < 0.09"},{"t":10.7,"s":0.44,"g":"PSI values < 0.09"},{"t":10.8,"s":0.38,"g":"PSI values < 0.09"},{"t":11.7,"s":0.345,"g":"PSI values < 0.09"},{"t":12.2,"s":0.31,"g":"PSI values < 0.09"},{"t":17.7,"s":0.25,"g":"PSI values < 0.09"},{"t":20.4,"s":0.165,"g":"PSI values < 0.09"},{"t":23.4,"s":0.165,"g":"PSI values < 0.09"}],
"ex":[{"t":0.98,"a":68,"b":121,"k":"exon"},{"t":0.98,"a":154,"b":180,"k":"exon"},{"t":0.98,"a":213,"b":254,"k":"exon"},{"t":0.98,"a":287,"b":307,"k":"exon"},{"t":0.98,"a":341,"b":361,"k":"exon"},{"t":0.98,"a":396,"b":416,"k":"exon"},{"t":0.98,"a":450,"b":458,"k":"exon"},{"t":0.98,"a":492,"b":512,"k":"exon"},{"t":0.98,"a":546,"b":554,"k":"exon"},{"t":0.98,"a":589,"b":597,"k":"inclusion"},{"t":0.98,"a":628,"b":637,"k":"exon"},{"t":0.98,"a":888,"b":906,"k":"exon"},{"t":0.98,"a":938,"b":956,"k":"exon"},{"t":0.98,"a":985,"b":994,"k":"exon"},{"t":0.98,"a":1026,"b":1045,"k":"exon"},{"t":0.98,"a":1076,"b":1092,"k":"exon"},{"t":0.98,"a":1122,"b":1240,"k":"exon"},
{"t":2,"a":68,"b":121,"k":"exon"},{"t":2,"a":154,"b":180,"k":"exon"},{"t":2,"a":213,"b":254,"k":"exon"},{"t":2,"a":287,"b":307,"k":"exon"},{"t":2,"a":341,"b":361,"k":"exon"},{"t":2,"a":396,"b":416,"k":"exon"},{"t":2,"a":450,"b":458,"k":"exon"},{"t":2,"a":492,"b":512,"k":"exon"},{"t":2,"a":546,"b":554,"k":"exon"},{"t":2,"a":628,"b":637,"k":"exon"},{"t":2,"a":888,"b":906,"k":"exon"},{"t":2,"a":938,"b":956,"k":"exon"},{"t":2,"a":985,"b":994,"k":"exon"},{"t":2,"a":1026,"b":1045,"k":"exon"},{"t":2,"a":1076,"b":1092,"k":"exon"},{"t":2,"a":1122,"b":1140,"k":"exon"},
{"t":2.94,"a":213,"b":254,"k":"exon"},{"t":2.94,"a":287,"b":307,"k":"exon"},{"t":2.94,"a":341,"b":361,"k":"exon"},{"t":2.94,"a":396,"b":416,"k":"exon"},{"t":2.94,"a":450,"b":458,"k":"exon"},{"t":2.94,"a":492,"b":512,"k":"exon"},{"t":2.94,"a":546,"b":554,"k":"exon"},{"t":2.94,"a":628,"b":637,"k":"exon"},
{"t":3.98,"a":546,"b":554,"k":"exon"},{"t":3.98,"a":589,"b":597,"k":"inclusion"},{"t":3.98,"a":628,"b":637,"k":"exon"},{"t":3.98,"a":668,"b":858,"k":"exon"},{"t":3.98,"a":888,"b":906,"k":"exon"},{"t":3.98,"a":938,"b":956,"k":"exon"},{"t":3.98,"a":985,"b":994,"k":"exon"},{"t":3.98,"a":1026,"b":1045,"k":"exon"},{"t":3.98,"a":1076,"b":1092,"k":"exon"},{"t":3.98,"a":1122,"b":1240,"k":"exon"},
{"t":6.22,"a":103,"b":121,"k":"domain"},{"t":6.22,"a":154,"b":163,"k":"domain"},{"t":6.22,"a":406,"b":415,"k":"domain"},{"t":6.22,"a":450,"b":459,"k":"domain"},{"t":6.22,"a":503,"b":512,"k":"domain"},{"t":6.22,"a":546,"b":554,"k":"domain"},{"t":6.22,"a":628,"b":637,"k":"domain"},{"t":6.22,"a":888,"b":906,"k":"domain"},{"t":6.22,"a":938,"b":947,"k":"domain"},{"t":6.22,"a":1085,"b":1092,"k":"domain"},{"t":6.22,"a":1124,"b":1133,"k":"domain"}],
"intr":[{"t":0.98,"a":68,"b":1240,"k":"t"},{"t":2,"a":68,"b":1140,"k":"t"},{"t":2.94,"a":213,"b":637,"k":"t"},{"t":3.98,"a":546,"b":1240,"k":"t"},{"t":6.22,"a":121,"b":154,"k":"d"},{"t":6.22,"a":415,"b":450,"k":"d"},{"t":6.22,"a":512,"b":947,"k":"d"},{"t":6.22,"a":1092,"b":1124,"k":"d"}]
},
"layer":[
{"layer":[
{"data":{"name":"aT"},"mark":{"type":"point","filled":true,"size":75,"opacity":1},"encoding":{"x":{"field":"x","type":"quantitative","scale":{"domain":[-3.44,5.8],"range":[78,540],"nice":false,"zero":false},"axis":{"orient":"bottom","offset":-590,"values":[-2,0,2,4],"title":"PC1 (12.743% explained variance)","tickSize":0,"format":"~f"}},"y":{"field":"y","type":"quantitative","scale":{"domain":[-5,5],"range":[274,57.5],"nice":false},"axis":{"orient":"left","offset":-78,"values":[-5,-2.5,0,2.5,5],"domain":false,"ticks":false,"labelPadding":17,"titlePadding":12,"title":"PC2 (3.987% explained variance)","format":"~f"}},
"color":{"datum":"Tumour Stage I","scale":{"domain":["Tumour Stage I","Normal"],"range":["#5a2a8e","#64ba5c"]},"legend":{"orient":"none","legendX":170,"legendY":337,"direction":"horizontal","title":null,"symbolSize":55,"labelOffset":9,"columnPadding":26}},"shape":{"datum":"Tumour Stage I","scale":{"domain":["Tumour Stage I","Normal"],"range":["circle","diamond"]},"legend":{"orient":"none","legendX":170,"legendY":337,"direction":"horizontal","title":null,"symbolSize":55,"labelOffset":9,"columnPadding":26}}}},
{"data":{"name":"aN"},"mark":{"type":"point","filled":true,"size":44,"opacity":1},"encoding":{"x":{"field":"x","type":"quantitative"},"y":{"field":"y","type":"quantitative"},"color":{"datum":"Normal"},"shape":{"datum":"Normal"}}},
{"data":{"values":[{"x":-4.76,"y":6.5,"t":"A"}]},"mark":{"type":"text","font":"Liberation Sans","fontWeight":"bold","fontSize":22,"align":"left","color":"#000"},"encoding":{"x":{"field":"x","type":"quantitative"},"y":{"field":"y","type":"quantitative"},"text":{"field":"t"}}},
{"data":{"values":[{"x":-4.2,"y":6.5,"t":"Clinical samples (PCA scores – alternative splicing)"}]},"mark":{"type":"text","font":"DejaVu Sans","fontSize":18.5,"align":"left","color":"#333"},"encoding":{"x":{"field":"x","type":"quantitative"},"y":{"field":"y","type":"quantitative"},"text":{"field":"t"}}}
]},
{"layer":[
{"data":{"name":"bCore"},"mark":{"type":"rect","color":"#93b5e9"},"encoding":{"x":{"field":"x","type":"quantitative","scale":{"domain":[-0.106,0.114],"range":[88,535],"nice":false,"zero":false},"axis":{"orient":"bottom","offset":-183,"values":[-0.1,-0.05,0,0.05,0.1],"title":"PC1 (12.743% explained variance)","tickSize":0,"format":"~f"}},"x2":{"field":"x2"},"y":{"field":"y","type":"quantitative","scale":{"domain":[-0.15,0.15],"range":[681,444],"nice":false},"axis":{"orient":"left","offset":-88,"values":[-0.15,-0.1,-0.05,0,0.05,0.1,0.15],"domain":false,"ticks":false,"labelPadding":14,"titlePadding":10,"title":"PC2 (3.987% explained variance)","format":"~f"}},"y2":{"field":"y2"}}},
{"data":{"name":"b"},"mark":{"type":"point","filled":true,"fill":"#8fb4ea","fillOpacity":0.6,"stroke":"#7da4e2","strokeOpacity":0.5,"strokeWidth":1},"encoding":{"x":{"field":"x","type":"quantitative"},"y":{"field":"y","type":"quantitative"},"size":{"field":"c","type":"quantitative","scale":{"domain":[0,1],"range":[50,680]},"legend":null}}},
{"data":{"values":[{"x":-0.0933,"y":0.072,"x2":-0.0915,"y2":0.051},{"x":-0.078,"y":0.089,"x2":-0.0827,"y2":0.055},{"x":-0.0968,"y":-0.018,"x2":-0.0938,"y2":-0.0336},{"x":-0.0885,"y":-0.0105,"x2":-0.0912,"y2":-0.0336},{"x":0.104,"y":-0.0046,"x2":0.1009,"y2":-0.0172},{"x":0.1035,"y":-0.0676,"x2":0.105,"y2":-0.0916},{"x":0.1119,"y":-0.0433,"x2":0.1088,"y2":-0.0916}]},"mark":{"type":"rule","color":"#333","strokeWidth":1},"encoding":{"x":{"field":"x","type":"quantitative"},"y":{"field":"y","type":"quantitative"},"x2":{"field":"x2"},"y2":{"field":"y2"}}},
{"data":{"values":[{"x":-0.0885,"y":0.101,"t":"NUMB"},{"x":-0.1,"y":0.084,"t":"SLK"},{"x":-0.104,"y":-0.045,"t":"SMARCC2"},{"x":-0.067,"y":-0.082,"t":"MCM7"},{"x":0.0935,"y":0.004,"t":"LRRFIP2"},{"x":0.0924,"y":-0.106,"t":"SLMAP"}]},"mark":{"type":"text","font":"Liberation Sans","fontSize":12.5,"align":"left","color":"#111"},"encoding":{"x":{"field":"x","type":"quantitative"},"y":{"field":"y","type":"quantitative"},"text":{"field":"t"}}},
{"data":{"values":[{"x":-0.1433,"y":0.214,"t":"B"}]},"mark":{"type":"text","font":"Liberation Sans","fontWeight":"bold","fontSize":22,"align":"left","color":"#000"},"encoding":{"x":{"field":"x","type":"quantitative"},"y":{"field":"y","type":"quantitative"},"text":{"field":"t"}}},
{"data":{"values":[{"x":-0.0145,"y":0.2095,"t":"Alternative splicing events (PCA loadings)"}]},"mark":{"type":"text","font":"DejaVu Sans","fontSize":18,"color":"#333"},"encoding":{"x":{"field":"x","type":"quantitative"},"y":{"field":"y","type":"quantitative"},"text":{"field":"t"}}},
{"data":{"values":[{"x":-0.0145,"y":0.1766,"t":"Bubble size: contribution of the event to PC1 and PC2"}]},"mark":{"type":"text","font":"DejaVu Sans","fontSize":12,"color":"#666"},"encoding":{"x":{"field":"x","type":"quantitative"},"y":{"field":"y","type":"quantitative"},"text":{"field":"t"}}}
]},
{"layer":[
{"data":{"values":[{"v":0,"a":-1.1,"b":1.1},{"v":5,"a":-1.1,"b":1.1},{"v":10,"a":-1.1,"b":1.1},{"v":15,"a":-1.1,"b":1.1},{"v":20,"a":-1.1,"b":1.1},{"v":25,"a":-1.1,"b":1.1},{"v":30,"a":-1.1,"b":1.1},{"v":35,"a":-1.1,"b":1.1},{"v":40,"a":-1.1,"b":1.1}]},"mark":{"type":"rule","color":"#efefef"},"encoding":{"x":{"field":"a","type":"quantitative","scale":{"domain":[-1.1,1.1],"range":[620,1353],"nice":false,"zero":false},"axis":{"orient":"bottom","offset":-557,"values":[-1,-0.5,0,0.5,1],"format":".1f","domain":false,"tickColor":"#888","tickSize":3,"labelPadding":5,"labelFont":"Liberation Sans","labelFontSize":13.5,"labelColor":"#555","title":"Δ Median","titleFont":"Liberation Sans","titleFontSize":18,"titleColor":"#111","titlePadding":6}},"x2":{"field":"b"},"y":{"field":"v","type":"quantitative","scale":{"domain":[-2.1,44],"range":[307,28],"nice":false},"axis":{"orient":"left","offset":-620,"values":[0,10,20,30,40],"domain":false,"tickColor":"#888","tickSize":3,"labelPadding":5,"labelFont":"Liberation Sans","labelFontSize":13.5,"labelColor":"#555","title":"-log10(|p-value (BH adjusted)|)","titleFont":"Liberation Sans","titleFontSize":18,"titleColor":"#111","titlePadding":8}}}},
{"data":{"values":[{"v":-1,"a":-2.1,"b":44},{"v":-0.75,"a":-2.1,"b":44},{"v":-0.5,"a":-2.1,"b":44},{"v":-0.25,"a":-2.1,"b":44},{"v":0,"a":-2.1,"b":44},{"v":0.25,"a":-2.1,"b":44},{"v":0.5,"a":-2.1,"b":44},{"v":0.75,"a":-2.1,"b":44},{"v":1,"a":-2.1,"b":44}]},"mark":{"type":"rule","color":"#efefef"},"encoding":{"x":{"field":"v","type":"quantitative"},"y":{"field":"a","type":"quantitative"},"y2":{"field":"b"}}},
{"data":{"values":[{"a":-1.1,"b":1.1,"c":-2.1,"d":44}]},"mark":{"type":"rect","fill":null,"stroke":"#ddd","strokeWidth":2},"encoding":{"x":{"field":"a","type":"quantitative"},"x2":{"field":"b"},"y":{"field":"c","type":"quantitative"},"y2":{"field":"d"}}},
{"data":{"name":"cBlocksO"},"mark":{"type":"rect","color":"#e8a32e"},"encoding":{"x":{"field":"x","type":"quantitative"},"x2":{"field":"x2"},"y":{"field":"y","type":"quantitative"},"y2":{"field":"y2"}}},
{"data":{"name":"cBlocksG"},"mark":{"type":"rect","color":"#b5b5b5"},"encoding":{"x":{"field":"x","type":"quantitative"},"x2":{"field":"x2"},"y":{"field":"y","type":"quantitative"},"y2":{"field":"y2"}}},
{"data":{"name":"cO"},"mark":{"type":"circle","size":72,"color":"#eda732","opacity":0.6},"encoding":{"x":{"field":"x","type":"quantitative"},"y":{"field":"y","type":"quantitative"}}},
{"data":{"name":"cG"},"mark":{"type":"circle","size":72,"color":"#b9b9b9","opacity":0.6},"encoding":{"x":{"field":"x","type":"quantitative"},"y":{"field":"y","type":"quantitative"}}},
{"data":{"name":"cH"},"mark":{"type":"circle","size":60,"color":"#6a4fb8","opacity":1},"encoding":{"x":{"field":"x","type":"quantitative"},"y":{"field":"y","type":"quantitative"}}},
{"data":{"name":"cH"},"mark":{"type":"text","font":"Liberation Sans","fontSize":12,"align":"left","color":"#111"},"encoding":{"x":{"field":"lx","type":"quantitative"},"y":{"field":"ly","type":"quantitative"},"text":{"field":"gene"}}},
{"data":{"values":[{"x":-1.25,"y":44.8,"t":"C"}]},"mark":{"type":"text","font":"Liberation Sans","fontWeight":"bold","fontSize":22,"align":"left","color":"#000"},"encoding":{"x":{"field":"x","type":"quantitative"},"y":{"field":"y","type":"quantitative"},"text":{"field":"t"}}}
]},
{"layer":[
{"data":{"values":[{"v":2,"a":0,"b":1},{"v":4,"a":0,"b":1},{"v":6,"a":0,"b":1}]},"mark":{"type":"rule","color":"#eee"},"encoding":{"x":{"field":"a","type":"quantitative","scale":{"domain":[0,1],"range":[599,956],"nice":false},"axis":{"orient":"bottom","offset":-202,"values":[0,0.25,0.5,0.75,1],"format":"~f","title":"Distribution of PSI values","titleFontSize":10.9,"tickSize":5,"labelPadding":6}},"x2":{"field":"b"},"y":{"field":"v","type":"quantitative","scale":{"domain":[0,6],"range":[662,463],"nice":false},"axis":{"orient":"left","offset":-599,"values":[0,2,4,6],"format":"d","domain":false,"ticks":false,"labelPadding":10,"title":null}}}},
{"data":{"name":"dT"},"mark":{"type":"area","interpolate":"monotone","fillOpacity":0.38},"encoding":{"x":{"field":"x","type":"quantitative"},"y":{"field":"y","type":"quantitative"},"color":{"datum":"Tumour Stage I","scale":{"domain":["Tumour Stage I","Normal"],"range":["#5a2a8e","#64ba5c"]},"legend":{"orient":"none","legendX":673,"legendY":717,"direction":"horizontal","title":null,"symbolSize":100,"symbolOpacity":1,"symbolType":"circle","labelFontSize":10.2,"columnPadding":20}}}},
{"data":{"name":"dN"},"mark":{"type":"area","interpolate":"monotone","fillOpacity":0.35},"encoding":{"x":{"field":"x","type":"quantitative"},"y":{"field":"y","type":"quantitative"},"color":{"datum":"Normal"}}},
{"data":{"name":"dT"},"mark":{"type":"line","interpolate":"monotone","strokeWidth":1.5},"encoding":{"x":{"field":"x","type":"quantitative"},"y":{"field":"y","type":"quantitative"},"color":{"datum":"Tumour Stage I"}}},
{"data":{"name":"dN"},"mark":{"type":"line","interpolate":"monotone","strokeWidth":1.5},"encoding":{"x":{"field":"x","type":"quantitative"},"y":{"field":"y","type":"quantitative"},"color":{"datum":"Normal"}}},
{"data":{"values":[{"x":0.075,"y":0,"y2":6}]},"mark":{"type":"rule","strokeDash":[5,2],"strokeWidth":2},"encoding":{"x":{"field":"x","type":"quantitative"},"y":{"field":"y","type":"quantitative"},"y2":{"field":"y2"},"color":{"datum":"Tumour Stage I"}}},
{"data":{"values":[{"x":0.175,"y":0,"y2":6}]},"mark":{"type":"rule","strokeDash":[5,2],"strokeWidth":2},"encoding":{"x":{"field":"x","type":"quantitative"},"y":{"field":"y","type":"quantitative"},"y2":{"field":"y2"},"color":{"datum":"Normal"}}},
{"data":{"name":"rugT"},"mark":{"type":"circle","size":55,"fillOpacity":0.5},"encoding":{"x":{"field":"x","type":"quantitative"},"y":{"datum":0},"color":{"datum":"Tumour Stage I"}}},
{"data":{"name":"rugN"},"mark":{"type":"circle","size":55,"fillOpacity":0.7},"encoding":{"x":{"field":"x","type":"quantitative"},"y":{"datum":0},"color":{"datum":"Normal"}}},
{"data":{"values":[{"x":0.115,"y":0},{"x":0.115,"y":6.92},{"x":1.24,"y":6.92}]},"mark":{"type":"line","color":"#d98f33","strokeWidth":2,"clip":false},"encoding":{"x":{"field":"x","type":"quantitative"},"y":{"field":"y","type":"quantitative"},"order":{"field":"y"}}},
{"data":{"values":[{"x":1.245,"y":6.92}]},"mark":{"type":"point","shape":"triangle-right","filled":true,"color":"#d98f33","size":90,"opacity":1},"encoding":{"x":{"field":"x","type":"quantitative"},"y":{"field":"y","type":"quantitative"}}},
{"data":{"values":[{"x":0.0944,"y":5.7,"t":"Median: 0.075 / Variance: 0.005"},{"x":0.195,"y":5.7,"t":"Median: 0.175 / Variance: 0.010"}]},"mark":{"type":"text","angle":90,"align":"left","font":"Liberation Sans","fontSize":12.4,"color":"#111"},"encoding":{"x":{"field":"x","type":"quantitative"},"y":{"field":"y","type":"quantitative"},"text":{"field":"t"}}},
{"data":{"values":[{"x":0.11,"y":-0.42,"t":"0.09"}]},"mark":{"type":"text","font":"DejaVu Sans","fontWeight":"bold","fontSize":12,"color":"#d98f33"},"encoding":{"x":{"field":"x","type":"quantitative"},"y":{"field":"y","type":"quantitative"},"text":{"field":"t"}}},
{"data":{"values":[{"x":-0.081,"y":8.1,"t":"D"}]},"mark":{"type":"text","font":"Liberation Sans","fontWeight":"bold","fontSize":22,"align":"left","color":"#000"},"encoding":{"x":{"field":"x","type":"quantitative"},"y":{"field":"y","type":"quantitative"},"text":{"field":"t"}}},
{"data":{"values":[{"x":0.05,"y":8.05,"t":"UHRF2 skipped exon 10 (chromosome 9: 6 492 303-6 492 401; hg19)"}]},"mark":{"type":"text","font":"Liberation Sans","fontSize":23.5,"align":"left","color":"#111"},"encoding":{"x":{"field":"x","type":"quantitative"},"y":{"field":"y","type":"quantitative"},"text":{"field":"t"}}}
]},
{"layer":[
{"data":{"values":[{"v":0.25,"a":0,"b":23.4},{"v":0.5,"a":0,"b":23.4},{"v":0.75,"a":0,"b":23.4},{"v":1,"a":0,"b":23.4}]},"mark":{"type":"rule","color":"#eee"},"encoding":{"x":{"field":"a","type":"quantitative","scale":{"domain":[0,23.4],"range":[1035,1345],"nice":false},"axis":{"orient":"bottom","offset":-202,"values":[0,5,10,15,20],"format":"d","title":"Time in years","titleFontSize":10.9,"tickSize":0}},"x2":{"field":"b"},"y":{"field":"v","type":"quantitative","scale":{"domain":[0,1],"range":[662,463],"nice":false},"axis":{"orient":"left","offset":-1035,"values":[0,0.25,0.5,0.75,1],"domain":false,"ticks":false,"labelPadding":15,"format":"~f","title":"Survival proportion","titleFontSize":10.9}}}},
{"data":{"name":"sv"},"mark":{"type":"line","interpolate":"step-after","strokeWidth":1.5},"encoding":{"x":{"field":"t","type":"quantitative"},"y":{"field":"s","type":"quantitative"},"color":{"field":"g","type":"nominal","scale":{"domain":["PSI values >= 0.09","PSI values < 0.09"],"range":["#7fa9e2","#333333"]},"legend":{"orient":"none","legendX":1027,"legendY":718,"direction":"horizontal","title":null,"symbolType":"stroke","symbolSize":200,"labelFontSize":10,"columnPadding":20}}}},
{"data":{"values":[{"x":9.66,"y":1.196,"t":"PSI cutoff: 0.09"},{"x":9.66,"y":1.085,"t":"Log-rank p-value: 8.87 x 10⁻³"}]},"mark":{"type":"text","font":"Liberation Sans","fontSize":16.5,"color":"#222"},"encoding":{"x":{"field":"x","type":"quantitative"},"y":{"field":"y","type":"quantitative"},"text":{"field":"t"}}}
]},
{"layer":[
{"data":{"values":[{"a":589,"b":597,"t":-0.3,"t2":6.5}]},"mark":{"type":"rect","color":"#cfcfcf"},"encoding":{"x":{"field":"a","type":"quantitative","scale":{"domain":[0,1267],"range":[78,1345],"nice":false},"axis":null},"x2":{"field":"b"},"y":{"field":"t","type":"quantitative","scale":{"domain":[0,6.5],"range":[760,864],"nice":false},"axis":null},"y2":{"field":"t2"}}},
{"data":{"name":"intr"},"mark":{"type":"rule","strokeWidth":2},"encoding":{"x":{"field":"a","type":"quantitative"},"x2":{"field":"b"},"y":{"field":"t","type":"quantitative"},"color":{"field":"k","type":"nominal","scale":{"domain":["t","d","exon","inclusion","domain","b","r","g"],"range":["#3a3a3a","#4a3330","#4f9df2","#7ba832","#c9261a","#4f9df2","#a3241a","#8dbb4f"]},"legend":null}}},
{"data":{"name":"ex"},"mark":{"type":"rule","strokeWidth":9},"encoding":{"x":{"field":"a","type":"quantitative"},"x2":{"field":"b"},"y":{"field":"t","type":"quantitative"},"color":{"field":"k","type":"nominal","legend":null}}},
{"data":{"values":[{"a":-22,"t":2,"l":"UHRF2","k":"b"},{"a":-22,"t":2.95,"l":"Transcripts","k":"b"},{"a":-22,"t":5.2,"l":"Protein","k":"r"},{"a":-22,"t":6.15,"l":"domains","k":"r"}]},"mark":{"type":"text","font":"Liberation Sans","fontWeight":"bold","fontSize":13,"align":"left"},"encoding":{"x":{"field":"a","type":"quantitative"},"y":{"field":"t","type":"quantitative"},"text":{"field":"l"},"color":{"field":"k","type":"nominal","legend":null}}},
{"data":{"values":[{"a":99,"t":5.4,"l":"Ubiquitin-like domain","k":"r"},{"a":400,"t":5.4,"l":"Zinc finger","k":"r"},{"a":498,"t":5.4,"l":"YDG domain","k":"r"},{"a":1077,"t":5.4,"l":"Zinc finger","k":"r"},{"a":596,"t":0,"l":"UHRF2 exon 10 inclusion","k":"g"}]},"mark":{"type":"text","font":"Liberation Sans","fontSize":13,"align":"left"},"encoding":{"x":{"field":"a","type":"quantitative"},"y":{"field":"t","type":"quantitative"},"text":{"field":"l"},"color":{"field":"k","type":"nominal","legend":null}}},
{"data":{"values":[{"a":-66,"t":0.1,"l":"E"}]},"mark":{"type":"text","font":"Liberation Sans","fontWeight":"bold","fontSize":22,"align":"left","color":"#000"},"encoding":{"x":{"field":"a","type":"quantitative"},"y":{"field":"t","type":"quantitative"},"text":{"field":"l"}}}
]}
]}
